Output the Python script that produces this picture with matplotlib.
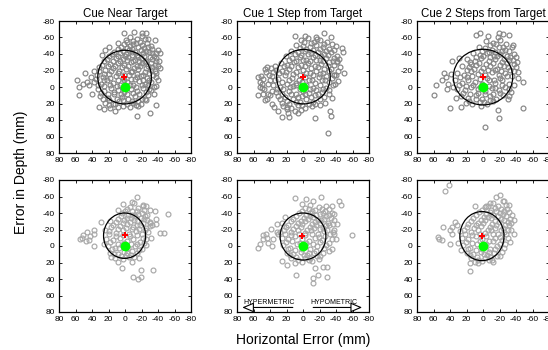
import numpy as np
import matplotlib
matplotlib.use('Agg')
import matplotlib.pyplot as plt
from matplotlib.patches import Ellipse, FancyArrowPatch

plt.rcParams['font.family'] = ['Liberation Sans', 'DejaVu Sans']
plt.rcParams['axes.unicode_minus'] = False

titles = ['Cue Near Target', 'Cue 1 Step from Target', 'Cue 2 Steps from Target', '', '', '']
ticks = [80, 60, 40, 20, 0, -20, -40, -60, -80]

# endpoint errors (horizontal, depth) in mm
near_pts = [(58, -8), (49, -17), (56, 0), (56, 10), (51, -4), (46, -6), (1, -65), (-11, -67), (-25, -65),
            (20, -49), (-38, -41), (-43, -41), (-38, 22), (-30, 32), (-15, 35), (-26, 16), (-16, 23), (32, 24),
            (26, 27), (12, 29), (9, -53), (-36, -57), (44, -2), (40, 8),
            (-6, -61), (-14, -58), (-21, -62), (-3, -54), (-10, -52), (-18, -55), (-27, -53), (5, -49), (-2, -47),
            (-9, -46), (-16, -49), (-23, -47), (-31, -50), (13, -43), (6, -41), (-1, -40), (-8, -42), (-15, -39),
            (-22, -41), (-29, -43), (-35, -38), (19, -37), (11, -35), (3, -34), (-4, -36), (-12, -33), (-19, -35),
            (-26, -32), (-33, -34), (-41, -31), (26, -31), (18, -28), (9, -29), (1, -27), (-7, -30), (-14, -26),
            (-21, -29), (-28, -25), (-36, -27), (-42, -23), (31, -24), (24, -21), (15, -23), (7, -20), (-1, -22),
            (-9, -19), (-16, -22), (-24, -18), (-31, -21), (-38, -17), (34, -15), (27, -12), (19, -16), (11, -13),
            (3, -11), (-5, -14), (-12, -10), (-19, -13), (-27, -11), (-34, -14), (-40, -9), (37, -6), (29, -4),
            (22, -8), (14, -5), (6, -2), (-2, -6), (-10, -3), (-17, -7), (-24, -4), (-32, -6), (-38, -1), (33, 2),
            (25, 5), (17, 1), (9, 4), (1, 6), (-7, 2), (-14, 5), (-22, 1), (-29, 3), (-35, 8), (30, 11), (21, 13),
            (13, 9), (4, 12), (-4, 15), (-12, 11), (-20, 14), (-28, 10), (24, 19), (15, 20), (7, 17), (-2, 21),
            (-10, 19), (-19, 21), (18, 26), (8, 24), (-33, -46), (-40, -45), (-28, -58), (-20, -66), (38, -20),
            (41, -12), (28, -39), (24, -45),
            (-1, -57), (-10, -56), (-24, -58), (1, -52), (-6, -50), (-13, -53), (-21, -51), (-28, -48), (9, -46),
            (2, -44), (-5, -45), (-12, -43), (-19, -45), (-26, -44), (-33, -41), (16, -40), (8, -38), (0, -37),
            (-8, -39), (-16, -36), (-23, -38), (-30, -36), (-38, -35), (22, -34), (14, -32), (6, -31), (-2, -33),
            (-10, -31), (-17, -32), (-24, -30), (-31, -29), (-38, -31), (28, -27), (21, -25), (12, -26), (4, -24),
            (-4, -25), (-11, -23), (-18, -25), (-25, -23), (-33, -24), (-40, -26), (32, -19), (25, -16), (17, -19),
            (9, -17), (1, -15), (-7, -18), (-14, -16), (-22, -15), (-29, -17), (-36, -19), (35, -10), (26, -8),
            (18, -11), (9, -9), (1, -8), (-7, -10), (-15, -12), (-22, -9), (-29, -8), (-37, -12), (33, -2),
            (25, -1), (18, -3), (10, -1), (2, 1), (-6, -2), (-13, 0), (-20, -2), (-28, -2), (-35, 0), (29, 7),
            (21, 9), (13, 6), (5, 8), (-3, 9), (-10, 7), (-17, 9), (-25, 6), (-32, 4), (27, 15), (19, 16),
            (10, 14), (2, 16), (-8, 17), (-16, 17), (-24, 15), (20, 22), (12, 21), (3, 23), (-6, 24), (-13, 22)]

step1_pts = [(10, -62), (-2, -62), (-16, -61), (-26, -65), (-34, -60), (-47, -47), (-48, -43), (-41, -32),
             (-50, -17), (-38, -14), (54, -12), (52, -6), (55, 10), (50, 1), (46, 16), (-15, 37), (-33, 29),
             (-34, 35), (-30, 56), (25, 36), (17, 36), (6, 31), (20, 24), (-20, 22), (-35, 13),
             (3, -57), (-6, -59), (-13, -55), (-21, -57), (-29, -54), (8, -51), (0, -50), (-8, -48), (-16, -51),
             (-24, -49), (-32, -46), (-40, -50), (14, -44), (6, -42), (-2, -44), (-10, -41), (-18, -43), (-26, -40),
             (-34, -42), (-41, -38), (21, -37), (13, -35), (4, -36), (-4, -33), (-12, -36), (-20, -33), (-28, -35),
             (-36, -31), (-44, -34), (27, -29), (19, -27), (11, -30), (2, -27), (-6, -29), (-14, -26), (-22, -28),
             (-30, -25), (-38, -27), (-45, -24), (33, -21), (25, -19), (17, -22), (8, -18), (0, -21), (-8, -17),
             (-16, -20), (-24, -17), (-32, -19), (-40, -15), (38, -13), (30, -10), (22, -14), (13, -11), (5, -8),
             (-3, -12), (-11, -9), (-19, -12), (-27, -8), (-35, -11), (-42, -7), (36, -3), (28, 0), (20, -4),
             (12, -1), (4, 2), (-4, -2), (-12, 1), (-20, -3), (-28, 1), (-36, -2), (33, 6), (25, 9), (17, 5),
             (9, 8), (1, 11), (-7, 7), (-15, 10), (-23, 6), (-31, 9), (28, 15), (20, 17), (12, 14), (4, 18),
             (-4, 15), (-12, 18), (-20, 14), (-27, 19), (24, 23), (14, 26), (6, 22), (-3, 25), (-11, 23), (30, 29),
             (18, 31), (45, -18), (48, -10), (42, -4), (47, 3), (40, 10), (44, 14), (51, -13), (38, 20), (35, 24),
             (41, -14), (44, -24), (39, -23), (52, 0), (49, 8), (36, -18),
             (-1, -55), (-10, -53), (-17, -58), (-25, -52), (-35, -52), (4, -47), (-4, -46), (-12, -45), (-20, -46),
             (-28, -44), (-37, -45), (10, -40), (2, -39), (-6, -40), (-14, -39), (-22, -38), (-30, -39), (-38, -35),
             (17, -33), (8, -32), (0, -33), (-8, -31), (-16, -33), (-24, -31), (-32, -30), (-41, -30), (23, -25),
             (15, -25), (6, -24), (-2, -25), (-10, -23), (-18, -24), (-26, -22), (-34, -22), (-42, -20), (29, -17),
             (21, -18), (12, -16), (4, -15), (-4, -17), (-12, -14), (-20, -16), (-28, -13), (-37, -15), (34, -8),
             (26, -6), (17, -9), (9, -5), (1, -6), (-7, -8), (-15, -5), (-23, -9), (-31, -6), (-39, -4), (31, 2),
             (24, 3), (16, 0), (8, -3), (0, 5), (-8, 2), (-16, 4), (-24, 2), (-32, 4), (30, 11), (22, 12), (14, 9),
             (6, 12), (-2, 9), (-10, 12), (-18, 8), (-26, 12), (26, 19), (17, 21), (9, 18), (1, 22), (-7, 20),
             (-15, 21), (20, 27), (10, 29), (2, 28), (46, -22), (50, -4), (43, 8), (37, 5), (40, -8), (34, -26)]

step2_pts = [(8, -63), (4, -65), (-6, -62), (-19, -65), (-24, -64), (-31, -63), (-18, -61), (-36, -51),
             (-40, -36), (-48, -6), (-42, -11), (-49, 25), (-18, 28), (-19, 38), (-2, 48), (3, 23), (40, 25),
             (57, -2), (59, 10), (38, -31), (50, -8), (45, -12), (27, 24), (-30, 14), (-32, 11),
             (-4, -56), (-12, -53), (-20, -57), (-28, -52), (5, -49), (-3, -47), (-11, -45), (-19, -48), (-27, -45),
             (-35, -48), (12, -41), (4, -39), (-5, -41), (-13, -38), (-21, -40), (-29, -37), (-37, -40), (19, -34),
             (10, -32), (2, -35), (-7, -31), (-15, -34), (-23, -30), (-31, -33), (-38, -28), (26, -26), (17, -24),
             (8, -27), (0, -23), (-9, -25), (-17, -22), (-25, -26), (-33, -21), (-40, -24), (31, -17), (23, -15),
             (14, -19), (6, -16), (-2, -14), (-11, -18), (-19, -14), (-27, -17), (-35, -13), (34, -8), (26, -5),
             (18, -9), (10, -6), (1, -4), (-7, -8), (-15, -5), (-23, -9), (-31, -4), (-38, -2), (31, 2), (22, 4),
             (14, 0), (6, 3), (-3, 5), (-11, 1), (-19, 4), (-27, 0), (-34, 6), (27, 11), (18, 13), (9, 10),
             (1, 14), (-8, 11), (-16, 15), (-24, 10), (21, 19), (13, 21), (4, 18), (-5, 20), (-12, 17), (16, -30),
             (39, -16), (36, 0), (42, -4), (47, -17), (44, 3), (33, 13), (29, -35), (-43, -18), (-41, -30),
             (-8, -51), (-16, -52), (-24, -48), (-31, -44), (1, -44), (-7, -43), (-15, -42), (-23, -44), (8, -36),
             (0, -38), (-9, -36), (-17, -37), (-25, -34), (-33, -36), (14, -28), (5, -29), (-4, -28), (-12, -29),
             (-20, -27), (-29, -29), (-36, -33), (20, -21), (11, -22), (2, -19), (-6, -21), (-14, -21), (-22, -19),
             (-30, -24), (-38, -19), (28, -12), (20, -12), (13, -13), (4, -10), (-5, -11), (-13, -9), (-21, -11),
             (-29, -13), (29, -2), (21, -1), (12, -3), (4, 0), (-7, -1), (-15, 1), (-23, -3), (-31, 2), (24, 7),
             (16, 8), (6, 7), (-2, 9), (-12, 8), (-21, 7), (17, 17), (8, 15), (-1, 18), (-9, 16)]

near_b_pts = [(55, -8), (51, -13), (46, -17), (43, -12), (38, -19), (38, -15), (47, -6), (44, -7), (52, -10),
              (37, 0), (29, -29), (-14, -59), (-22, -50), (-26, -49), (2, -51), (-8, -53), (-36, -42), (-38, -33),
              (-52, -39), (-43, -16), (-47, -16), (-38, -27), (-30, -28), (-34, 29), (-19, 29), (-19, 38),
              (-10, 38), (-16, 40), (4, 27), (-9, 19), (-17, 15), (17, 13),
              (-2, -45), (-9, -42), (-16, -46), (4, -40), (-4, -38), (-12, -36), (-20, -40), (-27, -37), (9, -33),
              (1, -31), (-7, -34), (-15, -30), (-23, -33), (-30, -29), (15, -26), (6, -24), (-2, -27), (-10, -23),
              (-18, -26), (-26, -22), (-33, -25), (20, -18), (11, -16), (3, -19), (-5, -15), (-13, -18), (-21, -14),
              (-28, -17), (23, -9), (14, -7), (6, -10), (-2, -6), (-10, -9), (-18, -5), (-25, -8), (21, 0), (12, 2),
              (4, -1), (-4, 3), (-12, 0), (-20, 4), (-26, -1), (18, 8), (9, 10), (1, 7), (-7, 11), (-15, 8),
              (12, 15), (3, 16), (-5, 13), (18, -30), (24, -20), (26, -3), (-31, -10), (-22, -48), (-30, -44),
              (8, -44), (-11, -52),
              (-6, -47), (-14, -42), (-23, -44), (0, -42), (-8, -38), (-16, -39), (-24, -36), (5, -36), (-3, -34),
              (-11, -32), (-19, -34), (-27, -31), (11, -29), (2, -28), (-6, -29), (-14, -26), (-22, -28), (-30, -24),
              (17, -23), (8, -21), (-1, -22), (-9, -21), (-17, -21), (-24, -19), (20, -14), (11, -12), (2, -13),
              (-6, -12), (-14, -13), (-22, -10), (18, -5), (9, -3), (1, -4), (-7, -3), (-15, -2), (-23, -4), (16, 4),
              (7, 3), (-1, 2), (-9, 6), (-17, 5), (13, 10), (5, 12), (-3, 8), (-11, 13), (8, 19), (-1, 11)]

step1_b_pts = [(54, 3), (52, -2), (49, -8), (48, -13), (44, -10), (45, -15), (39, -21), (31, -17), (32, -27),
               (28, -17), (43, -4), (36, -8), (38, 0), (10, -58), (-4, -57), (-22, -59), (-12, -54), (-44, -54),
               (-46, -50), (-35, -48), (-37, -39), (-59, -13), (-41, -27), (-37, -15), (-35, 4), (8, 35),
               (-12, 39), (-18, 35), (-24, 26), (-29, 26), (-12, 45), (-29, 37), (-14, 27), (20, 23), (26, 18),
               (-3, -46), (-11, -43), (-19, -47), (-27, -42), (5, -40), (-4, -38), (-12, -35), (-20, -39), (-28, -36),
               (-35, -40), (12, -33), (3, -30), (-6, -33), (-14, -29), (-22, -32), (-30, -28), (-37, -31), (18, -26),
               (9, -24), (1, -27), (-8, -23), (-16, -26), (-24, -22), (-32, -25), (23, -19), (15, -17), (6, -20),
               (-2, -16), (-10, -19), (-18, -15), (-26, -18), (-33, -14), (26, -10), (18, -8), (10, -12), (1, -9),
               (-7, -6), (-15, -10), (-23, -7), (-31, -4), (24, -1), (16, 2), (7, -2), (-1, 1), (-9, 4), (-17, 0),
               (-25, 3), (-32, 6), (20, 8), (12, 10), (3, 7), (-5, 11), (-13, 8), (-21, 12), (15, 15), (6, 17),
               (-3, 14), (-11, 18), (-19, 16), (26, -28), (22, -35), (30, -14), (-38, -20), (-40, -8), (-28, -48),
               (-8, -50), (1, -51),
               (-7, -45), (-15, -44), (-23, -45), (-31, -45), (1, -43), (-8, -40), (-16, -38), (-24, -40), (-32, -37),
               (8, -36), (-1, -34), (-9, -36), (-18, -32), (-26, -33), (-34, -34), (15, -30), (6, -28), (-3, -30),
               (-11, -27), (-20, -28), (-28, -26), (-36, -27), (21, -23), (12, -21), (3, -23), (-5, -20), (-13, -22),
               (-21, -21), (-29, -20), (-36, -17), (22, -14), (14, -13), (5, -15), (-3, -13), (-11, -14), (-19, -11),
               (-27, -12), (-35, -9), (21, -5), (13, -6), (4, -4), (-4, -4), (-12, -3), (-20, -5), (-28, -1), (18, 4),
               (10, 5), (1, 4), (-7, 8), (-16, 6), (-24, 9), (16, 11), (8, 13), (-1, 11), (-9, 14), (-17, 12),
               (10, 20), (1, 19), (-7, 17)]

step2_b_pts = [(41, -74), (46, -67), (37, -23), (40, -19), (37, -15), (48, -23), (55, -11), (53, -8), (50, -7),
               (40, -2), (31, -26), (34, -29), (-4, -49), (-12, -52), (-20, -62), (-16, -59), (-25, -55),
               (-29, -45), (-37, -31), (-37, -15), (10, -49), (16, 30), (-12, 19), (6, 21), (16, 20),
               (-2, -47), (-10, -44), (-18, -48), (-26, -43), (-32, -50), (5, -41), (-4, -39), (-12, -37), (-20, -40),
               (-28, -36), (-35, -38), (12, -34), (3, -31), (-6, -35), (-14, -30), (-22, -33), (-30, -29), (18, -27),
               (9, -25), (0, -28), (-8, -23), (-16, -26), (-24, -22), (-32, -25), (23, -19), (14, -17), (6, -20),
               (-2, -16), (-10, -19), (-18, -14), (-26, -17), (-34, -20), (26, -10), (18, -8), (9, -12), (1, -9),
               (-7, -6), (-15, -10), (-23, -7), (-30, -10), (24, -1), (16, 2), (7, -2), (-1, 1), (-9, 4), (-17, 0),
               (-25, 3), (20, 8), (12, 10), (3, 7), (-5, 11), (-13, 8), (-21, 12), (15, 15), (6, 17), (-3, 14),
               (-11, 17), (28, -18), (30, -4), (27, 5), (-33, -5), (-24, -54), (-8, -52),
               (-6, -49), (-14, -46), (-22, -45), (-28, -50), (1, -44), (-8, -41), (-16, -43), (-24, -39), (-31, -41),
               (8, -37), (-1, -35), (-10, -34), (-18, -36), (-26, -32), (-33, -33), (15, -30), (6, -28), (-3, -31),
               (-11, -27), (-19, -29), (-27, -26), (-34, -28), (20, -23), (11, -22), (2, -24), (-6, -20), (-14, -22),
               (-22, -19), (-30, -20), (22, -14), (13, -13), (4, -15), (-4, -12), (-12, -14), (-20, -11), (-28, -14),
               (21, -5), (13, -4), (4, -6), (-4, -3), (-12, -6), (-20, -3), (-27, -2), (18, 4), (9, 5), (1, 4),
               (-7, 7), (-15, 4), (-23, 7), (16, 11), (7, 13), (-1, 10), (-9, 13), (-17, 12), (10, 19), (1, 18),
               (-7, 17)]

all_pts = [near_pts, step1_pts, step2_pts, near_b_pts, step1_b_pts, step2_b_pts]

# confidence ellipses: centre x, centre y, width, height
ell_cx = [0.5, -0.5, 0, 0.5, 0, 1.3]
ell_cy = [-12, -12.5, -12, -12.5, -11.5, -12]
ell_w = [65, 65, 72, 51, 55.5, 53.5]
ell_h = [65, 66, 67.5, 55, 57, 59.5]

# mean endpoint (red) and target (green)
mean_x = [1, 0, 0, 0, 1, 1]
mean_y = [-12, -12, -12, -13, -12, -12]
target = (0, 0)

fig = plt.figure(figsize=(5.48, 3.5), dpi=100)
lefts = [59, 237, 417]
tops = [21, 180]
size = 132
pt_colors = ['#858585', '#a8a8a8']  # top row darker than bottom row

for i in range(6):
    r, c = divmod(i, 3)
    ax = fig.add_axes([lefts[c] / 548, 1 - (tops[r] + size) / 350, size / 548, size / 350])
    pts = np.array(all_pts[i])
    ax.plot(pts[:, 0], pts[:, 1], 'o', mfc='none', mec=pt_colors[r], ms=3.5, mew=0.85, zorder=2)
    ax.add_patch(Ellipse((ell_cx[i], ell_cy[i]), ell_w[i], ell_h[i], fill=False, ec='black', lw=0.9, zorder=3))
    ax.plot(target[0], target[1], 'o', color='#00ff00', ms=6, zorder=4)
    ax.plot(mean_x[i], mean_y[i], 'P', color='red', ms=4, mew=0, zorder=5)
    ax.set_xlim(80, -80)
    ax.set_ylim(80, -80)
    ax.set_xticks(ticks)
    ax.set_yticks(ticks)
    ax.tick_params(direction='in', length=2, width=0.6, labelsize=6, pad=3,
                   top=True, right=True)
    for s in ax.spines.values():
        s.set_linewidth(0.9)
    if titles[i]:
        ax.set_title(titles[i], fontsize=8.3, pad=3)
    if i == 4:
        ax.add_patch(FancyArrowPatch((9, 74.5), (77, 74.5), arrowstyle='-|>,head_length=7,head_width=3',
                                     mutation_scale=1, fc='white', ec='black', lw=0.8, zorder=6))
        ax.add_patch(FancyArrowPatch((-9, 74.5), (-75, 74.5), arrowstyle='-|>,head_length=7,head_width=3',
                                     mutation_scale=1, fc='white', ec='black', lw=0.8, zorder=6))
        ax.text(41, 68, 'HYPERMETRIC', fontsize=5, ha='center', va='center')
        ax.text(-37, 68, 'HYPOMETRIC', fontsize=5, ha='center', va='center')

fig.text(303 / 548, 1 - 340 / 350, 'Horizontal Error (mm)', fontsize=10, ha='center', va='center')
fig.text(21 / 548, 1 - 172 / 350, 'Error in Depth (mm)', fontsize=10, ha='center', va='center', rotation=90)

fig.savefig('out.png', dpi=100)
